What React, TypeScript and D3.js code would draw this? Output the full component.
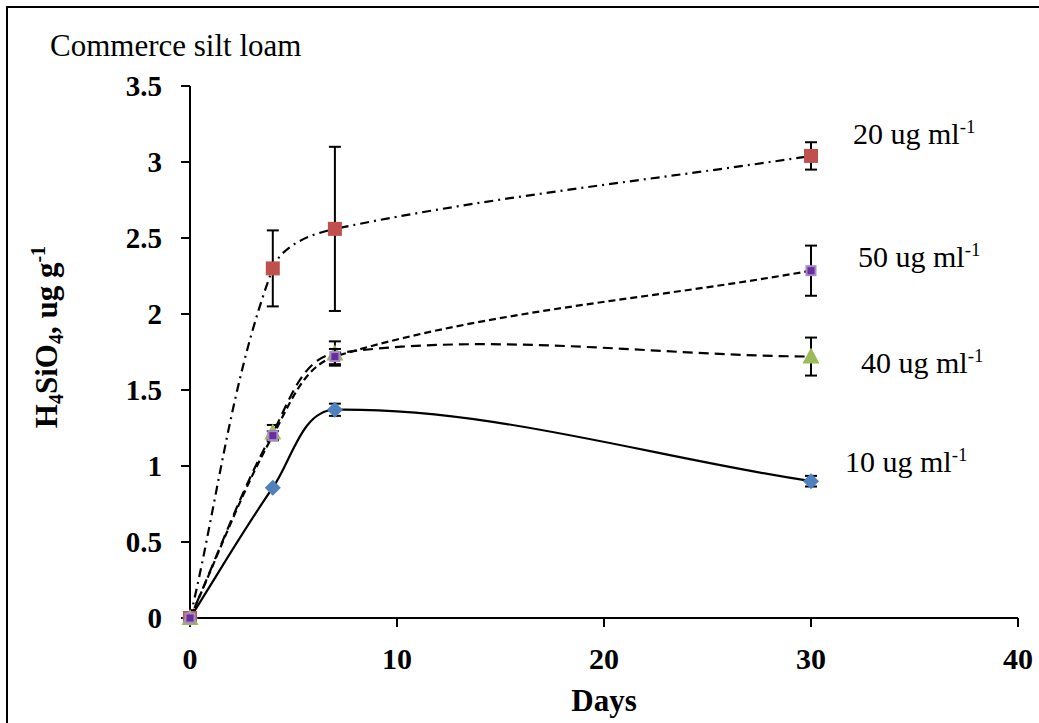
import React from 'react';
import * as d3 from 'd3';

const days = [0, 4, 7, 30];
const conc10 = [0, 0.857, 1.37, 0.9];
const err10 = [0, 0.01, 0.04, 0.035];
const conc20 = [0, 2.3, 2.56, 3.04];
const err20 = [0, 0.25, 0.54, 0.09];
const conc40 = [0, 1.22, 1.74, 1.72];
const err40 = [0, 0.05, 0.08, 0.125];
const conc50 = [0, 1.2, 1.72, 2.285];
const err50 = [0, 0.03, 0.05, 0.165];
const xTicks = [0, 10, 20, 30, 40];
const yTicks = [0, 0.5, 1, 1.5, 2, 2.5, 3, 3.5];

const seriesNames = ['10 ug ml', '20 ug ml', '40 ug ml', '50 ug ml'];

const font = '"Liberation Serif", "Times New Roman", serif';

const x = d3.scaleLinear().domain([0, 40]).range([190, 1018]);
const y = d3.scaleLinear().domain([0, 3.5]).range([618, 86]);

type Series = {
  name: string;
  values: number[];
  errs: number[];
  dash: string;
  marker: 'diamond' | 'square' | 'triangle' | 'small';
  color: string;
  label: [number, number];
};

// draw order matters: purple ends up on top at day 0 / day 7
const series: Series[] = [
  { name: seriesNames[0], values: conc10, errs: err10, dash: 'none', marker: 'diamond', color: '#4F81BD', label: [845, 472] },
  { name: seriesNames[1], values: conc20, errs: err20, dash: '9,5,2,5', marker: 'square', color: '#C0504D', label: [853, 144] },
  { name: seriesNames[2], values: conc40, errs: err40, dash: '10,6', marker: 'triangle', color: '#9BBB59', label: [861, 373] },
  { name: seriesNames[3], values: conc50, errs: err50, dash: '7,4', marker: 'small', color: '#8064A2', label: [858, 267] },
];

// Excel-like smoothing: tangent direction from neighbours, handle length ~ 1/3 of each segment
function excelSmooth(context: any) {
  let pts: [number, number][] = [];
  const dirAt = (i: number): [number, number] => {
    const a = pts[Math.max(0, i - 1)];
    const b = pts[Math.min(pts.length - 1, i + 1)];
    const dx = b[0] - a[0];
    const dy = b[1] - a[1];
    const l = Math.hypot(dx, dy) || 1;
    return [dx / l, dy / l];
  };
  return {
    areaStart() {},
    areaEnd() {},
    lineStart() {
      pts = [];
    },
    point(px: number, py: number) {
      pts.push([+px, +py]);
    },
    lineEnd() {
      if (!pts.length) return;
      context.moveTo(pts[0][0], pts[0][1]);
      for (let i = 0; i < pts.length - 1; i++) {
        const p = pts[i];
        const q = pts[i + 1];
        const len = Math.hypot(q[0] - p[0], q[1] - p[1]) / 3;
        const d0 = dirAt(i);
        const d1 = dirAt(i + 1);
        context.bezierCurveTo(p[0] + d0[0] * len, p[1] + d0[1] * len, q[0] - d1[0] * len, q[1] - d1[1] * len, q[0], q[1]);
      }
    },
  };
}

const line = d3
  .line<[number, number]>()
  .x((d) => x(d[0]))
  .y((d) => y(d[1]))
  .curve(excelSmooth as any);

function Marker({ kind, cx, cy, color }: { kind: Series['marker']; cx: number; cy: number; color: string }) {
  if (kind === 'diamond') {
    const r = 8;
    return <path d={`M${cx},${cy - r}L${cx + r},${cy}L${cx},${cy + r}L${cx - r},${cy}Z`} fill={color} />;
  }
  if (kind === 'square') {
    return <rect x={cx - 7} y={cy - 7} width={14} height={14} fill={color} />;
  }
  if (kind === 'triangle') {
    return <path d={`M${cx},${cy - 9}L${cx + 8.5},${cy + 7}L${cx - 8.5},${cy + 7}Z`} fill={color} />;
  }
  return (
    <g>
      <rect x={cx - 5.5} y={cy - 5.5} width={11} height={11} fill="#A58BC8" />
      <rect x={cx - 3.5} y={cy - 3.5} width={7} height={7} fill="#6A2E9C" />
    </g>
  );
}

export default function App() {
  return (
    <svg width={1039} height={723} style={{ position: 'absolute', left: 0, top: 0, background: '#fff' }}>
      <rect x={7} y={7} width={1040} height={730} fill="#fff" stroke="#000" strokeWidth={2} />

      <text x={50} y={56} fontFamily={font} fontSize={31}>
        Commerce silt loam
      </text>

      {/* axes */}
      <line x1={x(0)} x2={x(0)} y1={y(3.5)} y2={y(0)} stroke="#000" strokeWidth={2} />
      <line x1={x(0)} x2={x(40)} y1={y(0)} y2={y(0)} stroke="#000" strokeWidth={2} />
      {yTicks.map((t) => (
        <g key={'y' + t}>
          <line x1={x(0) - 9} x2={x(0)} y1={y(t)} y2={y(t)} stroke="#000" strokeWidth={2} />
          <text x={162} y={y(t)} dy="0.35em" textAnchor="end" fontFamily={font} fontWeight="bold" fontSize={29}>
            {String(t)}
          </text>
        </g>
      ))}
      {xTicks.map((t) => (
        <g key={'x' + t}>
          <line x1={x(t)} x2={x(t)} y1={y(0)} y2={y(0) + 9} stroke="#000" strokeWidth={2} />
          <text x={x(t)} y={669} textAnchor="middle" fontFamily={font} fontWeight="bold" fontSize={30}>
            {t}
          </text>
        </g>
      ))}
      <text x={(x(0) + x(40)) / 2} y={711} textAnchor="middle" fontFamily={font} fontWeight="bold" fontSize={31}>
        Days
      </text>
      <text
        transform="translate(57,337) rotate(-90)"
        textAnchor="middle"
        fontFamily={font}
        fontWeight="bold"
        fontSize={31}
      >
        H<tspan fontSize={20} dy={6}>4</tspan>
        <tspan dy={-6}>SiO</tspan>
        <tspan fontSize={20} dy={6}>4</tspan>
        <tspan dy={-6}>, ug g</tspan>
        <tspan fontSize={20} dy={-12}>-1</tspan>
      </text>

      {/* lines */}
      {series.map((s) => (
        <path
          key={'l' + s.name}
          d={line(days.map((d, i) => [d, s.values[i]] as [number, number])) || ''}
          fill="none"
          stroke="#000"
          strokeWidth={2.2}
          strokeDasharray={s.dash}
        />
      ))}

      {/* error bars + markers */}
      {series.map((s) => (
        <g key={'m' + s.name}>
          {days.map((d, i) =>
            s.errs[i] > 0.02 ? (
              <g key={i} stroke="#000" strokeWidth={2}>
                <line x1={x(d)} x2={x(d)} y1={y(s.values[i] - s.errs[i])} y2={y(s.values[i] + s.errs[i])} />
                <line x1={x(d) - 6} x2={x(d) + 6} y1={y(s.values[i] - s.errs[i])} y2={y(s.values[i] - s.errs[i])} />
                <line x1={x(d) - 6} x2={x(d) + 6} y1={y(s.values[i] + s.errs[i])} y2={y(s.values[i] + s.errs[i])} />
              </g>
            ) : null
          )}
          {days.map((d, i) => (
            <Marker key={i} kind={s.marker} cx={x(d)} cy={y(s.values[i])} color={s.color} />
          ))}
        </g>
      ))}

      {/* series labels */}
      {series.map((s) => (
        <text key={'t' + s.name} x={s.label[0]} y={s.label[1]} fontFamily={font} fontSize={30}>
          {s.name}
          <tspan fontSize={19} dy={-11}>-1</tspan>
        </text>
      ))}
    </svg>
  );
}
